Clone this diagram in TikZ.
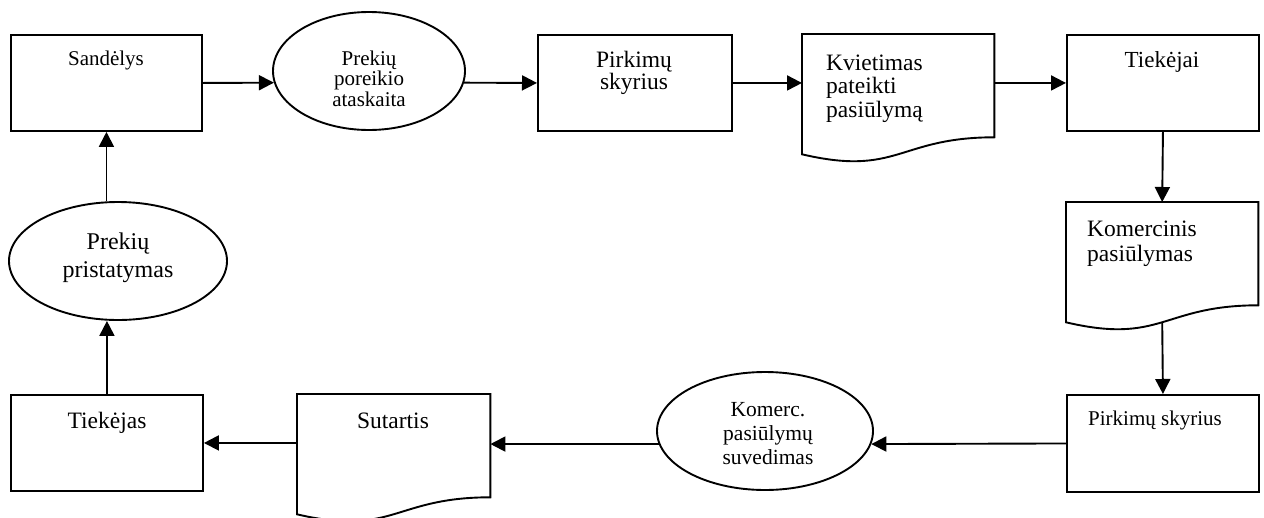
\documentclass[tikz,border=0pt]{standalone}
\usepackage{fontspec}
\setmainfont{Liberation Serif}
\usetikzlibrary{arrows.meta,calc,shapes.geometric}

\tikzset{
  outline/.style={draw=black, line width=1.9pt},
  boxnode/.style={outline, rectangle, inner sep=0pt, anchor=north west},
  ovalnode/.style={outline, ellipse, inner sep=0pt},
  docarea/.style={rectangle, inner sep=0pt, anchor=north west},
  flow/.style={line width=1.9pt, -{Triangle[length=15pt,width=15pt]}},
  % multi-line labels are placed by the baseline of their last line
  lbl/.style={inner sep=0pt, anchor=base, align=center},
  lblleft/.style={inner sep=0pt, anchor=base west, align=left},
}

% document symbol: rectangle with a wavy lower edge
\newcommand\flowdoc[4]{%
  \node[docarea, minimum width=#4pt, minimum height=128.4pt] (#1) at (#2,#3) {};
  \draw[outline, line join=miter]
    ($(#1.north west)!0.934!(#1.south west)$) -- (#1.north west) -- (#1.north east)
    -- ($(#1.north east)!0.802!(#1.south east)$)
    .. controls ($(#1.north)!0.802!(#1.south)$) and ($(#1.north)!1.109!(#1.south)$)
    .. ($(#1.north west)!0.934!(#1.south west)$) -- cycle;
  \coordinate (#1-wave) at ($(#1.north)!0.9336!(#1.south)$);
}

\begin{document}
\begin{tikzpicture}[x=1pt, y=-1pt]
\useasboundingbox (0,0) rectangle (1264,517);

% top row
\node[boxnode, minimum width=191pt, minimum height=96pt] (sand) at (10,34) {};
\node[ovalnode, minimum width=192pt, minimum height=118pt] (ataskaita) at (369,71) {};
\node[boxnode, minimum width=194pt, minimum height=96pt] (pirk) at (537,34) {};
\flowdoc{kviet}{802}{34}{192}
\node[boxnode, minimum width=192pt, minimum height=96pt] (tiekejai) at (1066,34) {};

% right column
\flowdoc{komer}{1066}{202}{192}

% bottom row
\node[boxnode, minimum width=192pt, minimum height=97pt] (pirkb) at (1066,394) {};
\node[ovalnode, minimum width=216pt, minimum height=118pt] (suved) at (765,431) {};
\flowdoc{sut}{297}{394}{193}
\node[boxnode, minimum width=192pt, minimum height=96pt] (tiekejas) at (10,394) {};

% left column
\node[ovalnode, minimum width=218pt, minimum height=118pt] (pristat) at (118,261) {};

% labels
\node[lbl, font=\fontsize{21pt}{20.5pt}\selectfont] at (106,65) {Sandėlys};
\node[lbl, font=\fontsize{21pt}{20.5pt}\selectfont] at (369,106) {Prekių\\poreikio\\ataskaita};
\node[lbl, font=\fontsize{23.5pt}{22.5pt}\selectfont] at (634,89.5) {Pirkimų\\skyrius};
\node[lblleft, font=\fontsize{23.5pt}{23.5pt}\selectfont] at (826,117) {Kvietimas\\pateikti\\pasiūlymą};
\node[lbl, font=\fontsize{23pt}{23pt}\selectfont] at (1162,67) {Tiekėjai};
\node[lblleft, font=\fontsize{23.5pt}{25pt}\selectfont] at (1087,261) {Komercinis\\pasiūlymas};
\node[lbl, font=\fontsize{21pt}{21pt}\selectfont] at (1155,425) {Pirkimų skyrius};
\node[lbl, font=\fontsize{21.5pt}{24pt}\selectfont] at (768,464) {Komerc.\\pasiūlymų\\suvedimas};
\node[lbl, font=\fontsize{23.5pt}{23.5pt}\selectfont] at (393,428) {Sutartis};
\node[lbl, font=\fontsize{23.5pt}{23.5pt}\selectfont] at (107,428) {Tiekėjas};
\node[lbl, font=\fontsize{24pt}{28pt}\selectfont] at (118,277) {Prekių\\pristatymas};

% connectors
\draw[flow] (sand.east) -- (ataskaita.187);
\draw[flow] (ataskaita.353) -- (pirk.west);
\draw[flow] (pirk.east) -- (pirk.east -| kviet.west);
\draw[flow] (kviet.east |- tiekejai.west) -- (tiekejai.west);
\draw[flow] (tiekejai.south) -- (komer.north);
\draw[flow] (komer-wave) -- (pirkb.north);
\draw[flow] (pirkb.west) -- (suved.353);
\draw[flow] (suved.187) -- (suved.187 -| sut.east);
\draw[flow] (sut.west |- tiekejas.east) -- (tiekejas.east);
\draw[flow] (tiekejas.north) -- (tiekejas.north |- pristat.south);
\draw[flow] (sand.south |- pristat.north) -- (sand.south);
\end{tikzpicture}
\end{document}
